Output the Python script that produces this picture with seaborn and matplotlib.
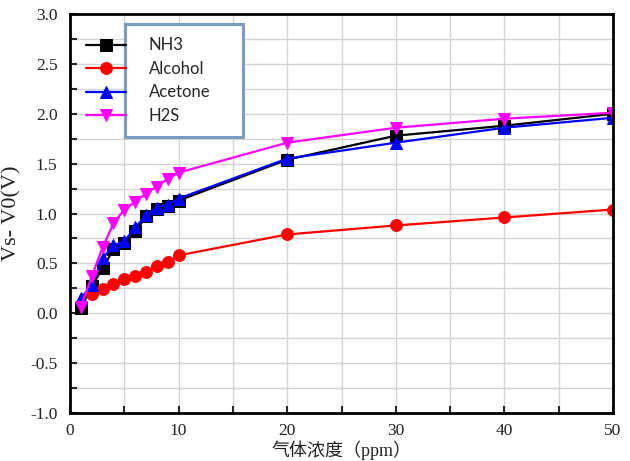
import matplotlib
matplotlib.use("Agg")
import matplotlib.pyplot as plt
import seaborn as sns
import pandas as pd
from matplotlib.patches import Rectangle
from matplotlib.ticker import MultipleLocator

conc = [1, 2, 3, 4, 5, 6, 7, 8, 9, 10, 20, 30, 40, 50]
nh3 = [0.05, 0.27, 0.45, 0.64, 0.70, 0.82, 0.97, 1.05, 1.08, 1.13, 1.54, 1.78, 1.88, 2.00]
alcohol_conc = [2, 3, 4, 5, 6, 7, 8, 9, 10, 20, 30, 40, 50]
alcohol = [0.19, 0.24, 0.29, 0.34, 0.37, 0.41, 0.47, 0.51, 0.58, 0.79, 0.88, 0.96, 1.04]
acetone = [0.15, 0.28, 0.55, 0.68, 0.72, 0.86, 0.98, 1.06, 1.09, 1.15, 1.55, 1.71, 1.86, 1.96]
h2s = [0.06, 0.37, 0.66, 0.90, 1.04, 1.12, 1.20, 1.27, 1.35, 1.41, 1.71, 1.86, 1.95, 2.01]

series = [
    ("NH3", conc, nh3, "black", "s"),
    ("Alcohol", alcohol_conc, alcohol, "#ff0000", "o"),
    ("Acetone", conc, acetone, "#0000ff", "^"),
    ("H2S", conc, h2s, "#ff00ff", "v"),
]

sns.set_style("white")
plt.rcParams["font.family"] = ["Liberation Serif", "Noto Sans CJK SC"]

fig = plt.figure(figsize=(6.3, 4.61), dpi=100)
ax = fig.add_axes([70 / 630, 48 / 461, 543 / 630, 399 / 461])

handles = []
for name, xs, ys, col, mk in series:
    df = pd.DataFrame({"x": xs, "y": ys})
    sns.lineplot(data=df, x="x", y="y", ax=ax, color=col, marker=mk,
                 markersize=8.5, markeredgecolor=col, linewidth=1.6,
                 label=name, legend=False)
    handles.append(ax.lines[-1])

ax.set_xlim(0, 50)
ax.set_ylim(-1.0, 3.0)
ax.xaxis.set_major_locator(MultipleLocator(10))
ax.xaxis.set_minor_locator(MultipleLocator(5))
ax.yaxis.set_major_locator(MultipleLocator(0.5))
ax.yaxis.set_minor_locator(MultipleLocator(0.25))
ax.yaxis.set_major_formatter(matplotlib.ticker.FormatStrFormatter("%.1f"))
ax.grid(True, which="both", color="#d4d4d4", linewidth=1.0)
ax.set_axisbelow(True)
ax.tick_params(axis="both", which="both", direction="in", length=5, width=1.5,
               bottom=True, left=True, top=False, right=False,
               labelsize=12.5, labelcolor="#222222")
ax.tick_params(axis="y", pad=9)
ax.tick_params(axis="x", pad=7)
for sp in ax.spines.values():
    sp.set_color("black")
    sp.set_linewidth(2)

ax.set_xlabel("气体浓度（ppm）", fontsize=13, labelpad=1, color="#222222")
ax.set_ylabel("Vs- V0(V)", fontsize=16, labelpad=6, color="#222222")

leg = ax.legend(handles=handles, labels=[s[0] for s in series],
                loc="upper left", bbox_to_anchor=(0.017, 0.958),
                frameon=False, handlelength=2.4, handletextpad=1.38,
                labelspacing=0.45, borderaxespad=0,
                prop={"family": "Lato", "size": 12})
leg.set_zorder(6)
rect = Rectangle((0.101, 0.692), 0.218, 0.283, transform=ax.transAxes,
                 facecolor="white", edgecolor="#7a9cc4", linewidth=2.2,
                 zorder=5)
ax.add_patch(rect)

fig.savefig("out.png", dpi=100)
